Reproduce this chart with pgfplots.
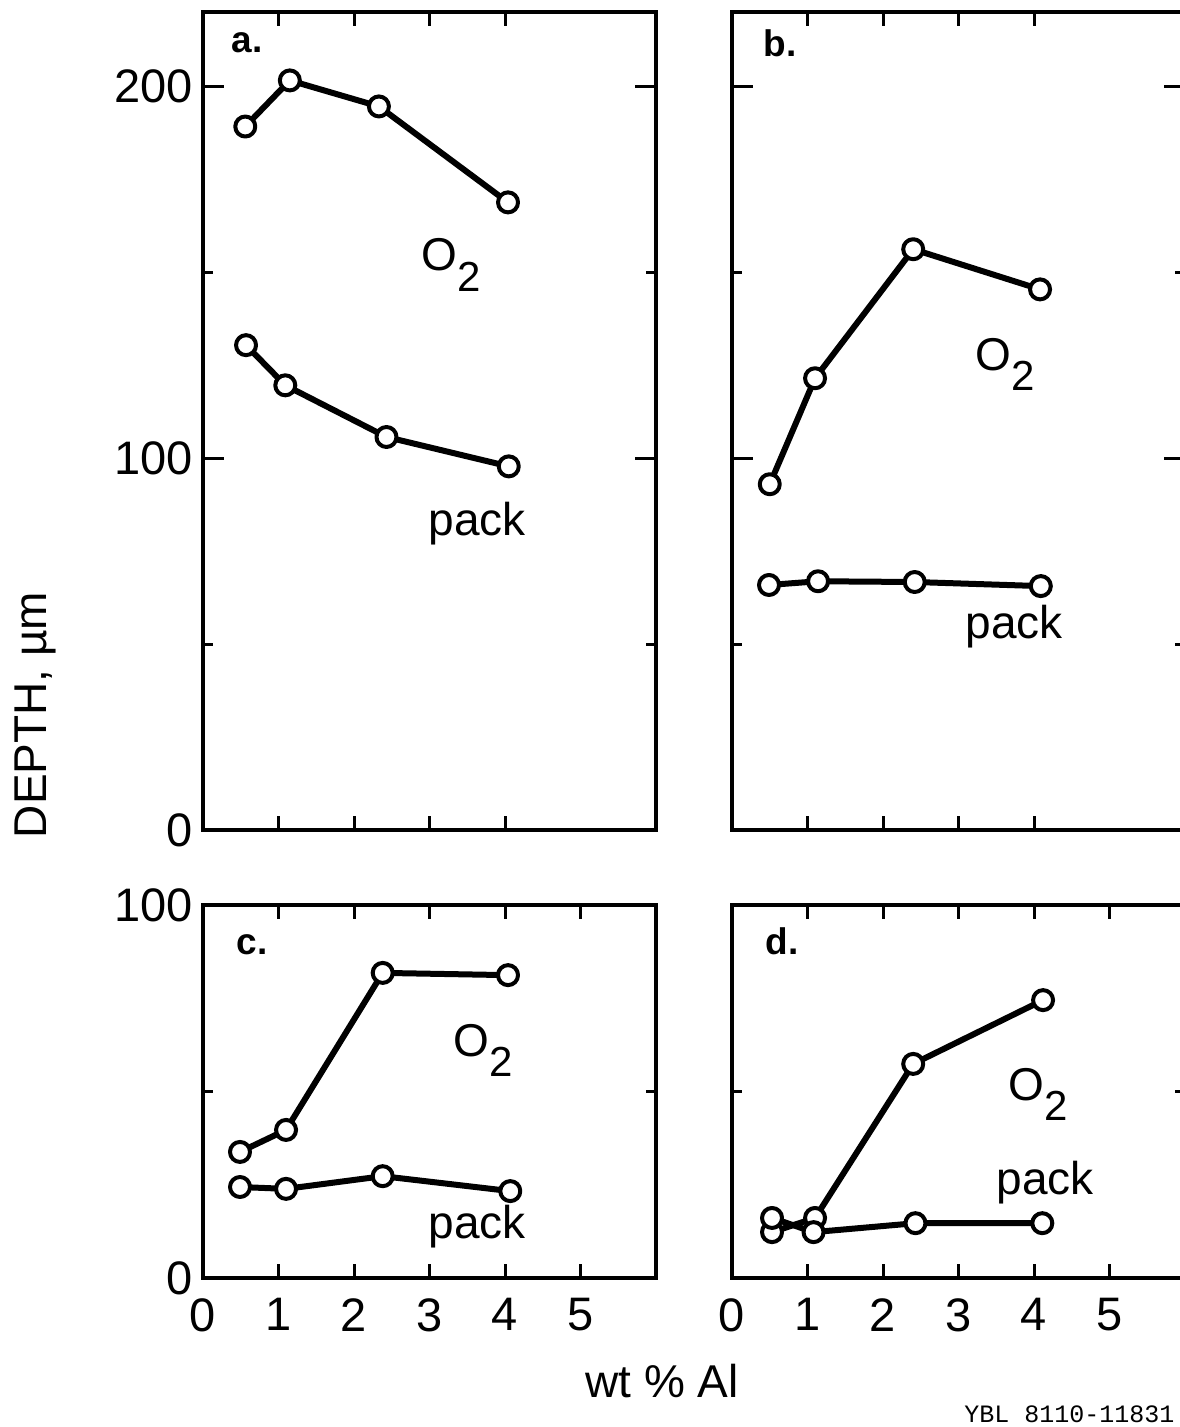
\documentclass[border=0pt]{standalone}
\usepackage{fontspec}
\setmainfont{Liberation Sans}
\setmonofont{Liberation Mono}
\usepackage{pgfplots}
\pgfplotsset{compat=1.18}

\newcommand\tickfont{\fontsize{47}{47}\selectfont}
\newcommand\lblfont{\fontsize{46}{46}\selectfont}
\newcommand\panfont{\fontsize{37}{37}\selectfont\bfseries}
\newcommand\Otwo{O\raisebox{-0.45em}{\fontsize{42}{42}\selectfont 2}}

\pgfplotsset{
  panel/.style={
    scale only axis, width=453pt, xmin=0, xmax=6,
    axis line style={line width=3.5pt},
    every tick/.style={black, line width=3pt},
    tick align=inside, xtick pos=both, ytick pos=both,
    xtick={1,2,3,4}, xticklabels={},
    major tick length=21pt, minor tick length=10pt,
    xtick style={/pgfplots/major tick length=14pt},
    /pgf/number format/assume math mode=true,
    tick label style={font=\tickfont},
    yticklabel style={inner sep=0pt, xshift=-10pt},
    clip=false,
  },
  top/.style={height=818pt, ymin=0, ymax=220, ytick={0,100,200}, minor ytick={50,150}},
  bot/.style={height=373pt, ymin=0, ymax=100, ytick={0,100}, minor ytick={50},
    extra x ticks={0,1,2,3,4,5}, extra x tick labels={0,1,2,3,4,5},
    extra x tick style={/pgfplots/major tick length=0pt,
      xticklabel style={inner sep=0pt, yshift=-20pt}}},
  ser/.style={black, line width=6pt, line join=round, mark=*, mark size=10pt,
    mark options={fill=white, line width=4pt}},
}

\begin{document}
\begin{tikzpicture}
\path[use as bounding box] (0pt,0pt) rectangle (1180pt,-1427pt);

% a
\begin{axis}[panel, top, at={(203pt,-830pt)}, anchor=south west, yticklabels={0,100,200}]
\addplot[ser] coordinates {(0.56,189.2) (1.15,201.6) (2.33,194.6) (4.04,168.8)};
\addplot[ser] coordinates {(0.57,130.4) (1.09,119.6) (2.43,105.7) (4.05,97.8)};
\node[anchor=base west, font=\panfont] at (axis cs:0.33,209) {a.};
\node[anchor=base west, font=\lblfont] at (axis cs:2.85,150.5) {\Otwo};
\node[anchor=base west, font=\lblfont] at (axis cs:2.94,79.3) {pack};
\end{axis}

% b
\begin{axis}[panel, top, at={(732pt,-830pt)}, anchor=south west, yticklabels={}]
\addplot[ser] coordinates {(0.50,93.0) (1.10,121.5) (2.40,156.2) (4.08,145.4)};
\addplot[ser] coordinates {(0.49,65.9) (1.14,66.9) (2.42,66.7) (4.09,65.6)};
\node[anchor=base west, font=\panfont] at (axis cs:0.37,208) {b.};
\node[anchor=base west, font=\lblfont] at (axis cs:3.18,123.7) {\Otwo};
\node[anchor=base west, font=\lblfont] at (axis cs:3.05,51.6) {pack};
\end{axis}

% c
\begin{axis}[panel, bot, at={(203pt,-1278pt)}, anchor=south west, yticklabels={0,100}]
\addplot[ser] coordinates {(0.49,33.8) (1.10,39.7) (2.38,81.8) (4.04,81.2)};
\addplot[ser] coordinates {(0.49,24.4) (1.10,23.9) (2.38,27.3) (4.07,23.3)};
\node[anchor=base west, font=\panfont] at (axis cs:0.40,86.6) {c.};
\node[anchor=base west, font=\lblfont] at (axis cs:3.27,59.5) {\Otwo};
\node[anchor=base west, font=\lblfont] at (axis cs:2.94,10.7) {pack};
\end{axis}

% d
\begin{axis}[panel, bot, at={(732pt,-1278pt)}, anchor=south west, yticklabels={}]
\addplot[ser] coordinates {(0.53,12.3) (1.10,16.1) (2.40,57.4) (4.12,74.5)};
\addplot[ser] coordinates {(0.53,16.1) (1.08,12.3) (2.43,14.7) (4.11,14.7)};
\node[anchor=base west, font=\panfont] at (axis cs:0.40,86.6) {d.};
\node[anchor=base west, font=\lblfont] at (axis cs:3.62,47.7) {\Otwo};
\node[anchor=base west, font=\lblfont] at (axis cs:3.46,22.3) {pack};
\end{axis}

\node[rotate=90, font=\lblfont] at (35pt,-715pt) {DEPTH, µm};
\node[font=\lblfont] at (662pt,-1381pt) {wt \% Al};
\node[anchor=base east, font=\fontsize{25}{25}\selectfont\ttfamily] at (1178pt,-1422pt) {YBL 8110-11831};
\end{tikzpicture}
\end{document}
